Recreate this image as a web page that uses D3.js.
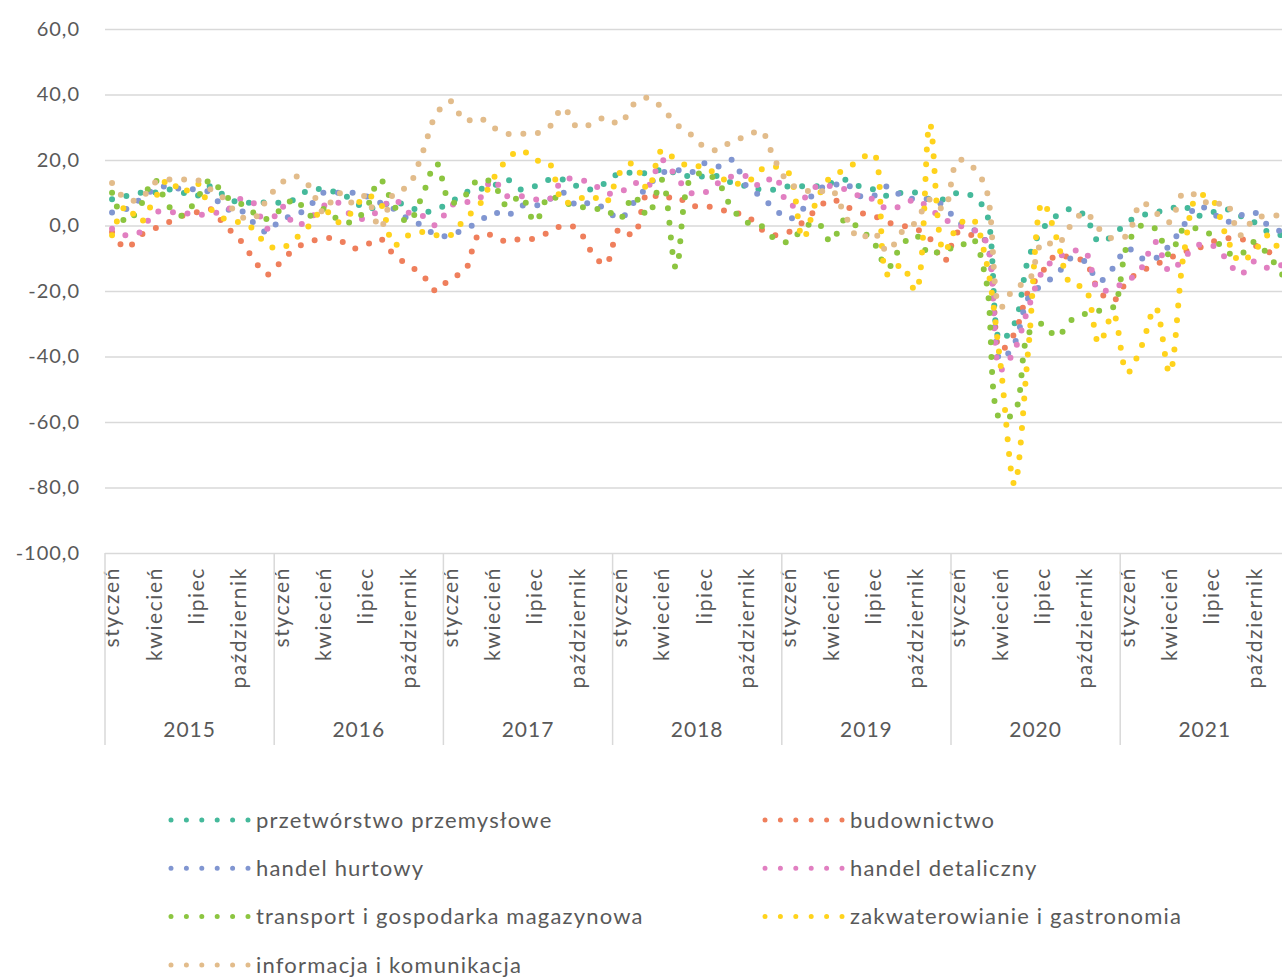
<!DOCTYPE html>
<html><head><meta charset="utf-8">
<script src="https://cdn.jsdelivr.net/npm/d3@7"></script>
<style>
html,body{margin:0;padding:0;background:#fff;overflow:hidden;}
svg{display:block;font-family:Lato,"Noto Sans",sans-serif;}
</style></head>
<body><svg id="chart" width="1282" height="978"></svg>
<script>
// ---------- DATA ----------
const monthNames = ["styczeń","luty","marzec","kwiecień","maj","czerwiec","lipiec","sierpień","wrzesień","październik","listopad","grudzień"];
const years = ["2015","2016","2017","2018","2019","2020","2021"];
const yTicks = [-100,-80,-60,-40,-20,0,20,40,60];

const przetworstwo = [
  8,9,10,10,11,10,9,12,9,7,7,7,
  7,8,11,11,10,8,5,6,7,6,4,5,
  7,10,11,12,14,11,12,14,14,12,11,13,
  16,16,16,17,16,15,15,15,13,12,11,11,
  12,12,12,13,14,12,11,9,10,10,8,8,
  10,9,4,-35,-30,-10,-1,3,5,3,-5,-3,
  1,3,4,5,6,3,4,5,3,1,-2,-3];
const budownictwo = [
  -2,-7,-3,-1,1,3,4,5,0,-4,-10,-15,
  -11,-7,-5,-4,-4,-7,-6,-4,-9,-12,-15,-20,
  -16,-14,-3,-3,-5,-4,-4,-2,0,-1,-8,-12,
  -1,-3,10,8,9,6,6,5,4,3,-1,-3,
  -2,1,5,8,6,4,3,1,0,-1,-4,-11,
  -2,-3,-5,-38,-33,-20,-14,-9,-10,-11,-20,-23,
  -17,-14,-12,-10,-8,-7,-5,-4,-4,-6,-8,-10];
const hurtowy = [
  4,5,8,11,12,11,11,10,5,5,1,-2,
  2,3,6,10,10,10,9,7,5,2,0,-3,
  -3,-1,1,4,3,6,6,8,10,6,7,5,
  2,7,12,16,17,16,19,18,20,12,9,5,
  2,5,11,12,13,9,9,12,9,8,8,6,
  1,-1,-5,-41,-36,-22,-18,-15,-10,-11,-17,-13,
  -7,-10,-10,-6,0,6,4,1,3,4,0,-2];
const detaliczny = [
  -1,-3,-2,4,4,4,3,4,4,8,7,-1,
  6,0,2,6,7,3,2,5,8,4,3,0,
  6,7,8,14,9,9,8,8,14,14,13,10,
  10,13,12,20,15,10,10,13,15,15,12,15,
  6,8,12,12,11,9,8,5,6,8,5,2,
  0,-1,-5,-44,-38,-25,-14,-10,-8,-8,-20,-19,
  -17,-13,-5,-14,-10,-6,-6,-10,-15,-11,-13,-12];
const transport = [
  10,1,6,14,6,3,8,14,9,7,4,2,
  5,8,3,5,2,1,5,14,6,1,9,19,
  7,9,14,13,6,9,1,9,7,6,5,5,
  2,9,3,14,-13,14,16,13,5,1,0,-4,
  -5,-1,1,-5,2,-1,-5,-13,-6,-3,-9,-7,
  -7,-4,-17,-59,-57,-33,-30,-34,-29,-27,-26,-25,
  -6,0,-1,-9,-1,-1,-3,-8,-9,-5,-9,-15];
const gastronomia = [
  -3,6,1,8,14,10,13,5,2,1,-1,-6,
  -7,-4,0,5,1,4,9,7,-6,-3,-2,-3,
  -3,2,6,14,20,23,20,19,7,8,9,7,
  16,19,11,23,20,18,18,15,13,13,17,18,
  16,-4,8,15,17,20,22,-15,-12,-20,31,-8,
  0,2,-11,-42,-79,-37,7,-4,-18,-19,-36,-27,
  -45,-37,-25,-45,-9,9,8,-3,-11,-8,-3,-10];
const informacja = [
  13,8,8,13,14,14,14,11,8,3,2,8,
  13,15,12,4,10,7,9,-1,10,12,22,34,
  38,32,33,30,28,28,28,30,36,30,31,33,
  31,37,39,36,31,28,24,23,26,27,29,20,
  13,11,10,11,3,-4,-2,-8,-2,1,8,5,
  20,18,11,-25,-19,-17,-5,-6,0,4,-1,-4,
  -3,7,4,1,10,9,6,7,-3,2,3,3];

const seriesNames = ["przetwórstwo przemysłowe","budownictwo","handel hurtowy","handel detaliczny","transport i gospodarka magazynowa","zakwaterowianie i gastronomia","informacja i komunikacja"];
const seriesValues = [przetworstwo,budownictwo,hurtowy,detaliczny,transport,gastronomia,informacja];
const seriesColors = ["#45b99b","#ef7f5c","#8196d1","#e17fc1","#8cc540","#ffd31c","#e2bc8b"];

// ---------- CHART ----------
const svg = d3.select("#chart");
const nMonths = 84;
const left = 105, monthW = 14.1;
const x = d3.scaleBand().domain(d3.range(nMonths)).range([left, left + nMonths*monthW]).padding(0);
const y = d3.scaleLinear().domain([-100, 60]).range([553, 29]);
const textCol = "#595959", gridCol = "#d9d9d9";

// y axis with gridlines
const yAxis = d3.axisLeft(y).tickValues(yTicks).tickSize(-(1282-left)).tickPadding(25)
  .tickFormat(d => d.toFixed(1).replace(".", ","));
const gy = svg.append("g").attr("transform", `translate(${left},0)`).call(yAxis);
gy.select(".domain").remove();
gy.selectAll(".tick line").attr("stroke", gridCol).attr("stroke-width", 1.5);
gy.selectAll(".tick text").attr("fill", textCol).attr("font-size", 20).attr("letter-spacing", 1)
  .attr("font-family", "Lato");

// x axis month labels
const xAxis = d3.axisBottom(x).tickValues(d3.range(nMonths).filter(i => i % 3 === 0))
  .tickSize(0).tickFormat(i => monthNames[i % 12]);
const gx = svg.append("g").attr("transform", `translate(0,${y(-100)})`).call(xAxis);
gx.select(".domain").remove();
gx.selectAll(".tick text")
  .attr("transform", "rotate(-90)")
  .attr("x", -14).attr("y", 0).attr("dy", "0.35em")
  .attr("text-anchor", "end")
  .attr("fill", textCol).attr("font-size", 21).attr("letter-spacing", 1.6).attr("font-family", "Lato");

// year separators and labels
const sep = svg.append("g");
d3.range(years.length + 1).forEach(k => {
  const xx = k < years.length ? x(k*12) : x(nMonths-1) + x.bandwidth();
  sep.append("line").attr("x1", xx).attr("x2", xx).attr("y1", y(-100)).attr("y2", 745)
    .attr("stroke", gridCol).attr("stroke-width", 1.5);
});
sep.selectAll("text.year").data(years).join("text").attr("class","year")
  .attr("x", (d,i) => x(i*12) + 6*monthW).attr("y", 730).attr("dy","0.35em")
  .attr("text-anchor","middle").attr("fill", textCol).attr("font-size", 21).attr("letter-spacing", 1)
  .text(d => d);

// series lines
const line = d3.line().x((d,i) => x(i) + x.bandwidth()/2).y(d => y(d)).curve(d3.curveCatmullRom.alpha(0.5));
const gl = svg.append("g");
seriesValues.forEach((vals, si) => {
  gl.append("path").datum(vals).attr("d", line)
    .attr("fill", "none").attr("stroke", seriesColors[si]).attr("stroke-width", 6)
    .attr("stroke-linecap", "round").attr("stroke-dasharray", "0 14.7");
});

// legend
const leg = svg.append("g");
seriesNames.forEach((name, i) => {
  const col = i % 2, row = Math.floor(i / 2);
  const lx = col === 0 ? 171 : 765;
  const ly = 820 + row * 48.3;
  leg.append("line").attr("x1", lx).attr("x2", lx + 77).attr("y1", ly).attr("y2", ly)
    .attr("stroke", seriesColors[i]).attr("stroke-width", 5).attr("stroke-linecap", "round")
    .attr("stroke-dasharray", "0 15.4");
  leg.append("text").attr("x", lx + 85).attr("y", ly).attr("dy", "0.35em")
    .attr("fill", textCol).attr("font-size", 22).attr("letter-spacing", 1.2).text(name);
});
</script></body></html>
